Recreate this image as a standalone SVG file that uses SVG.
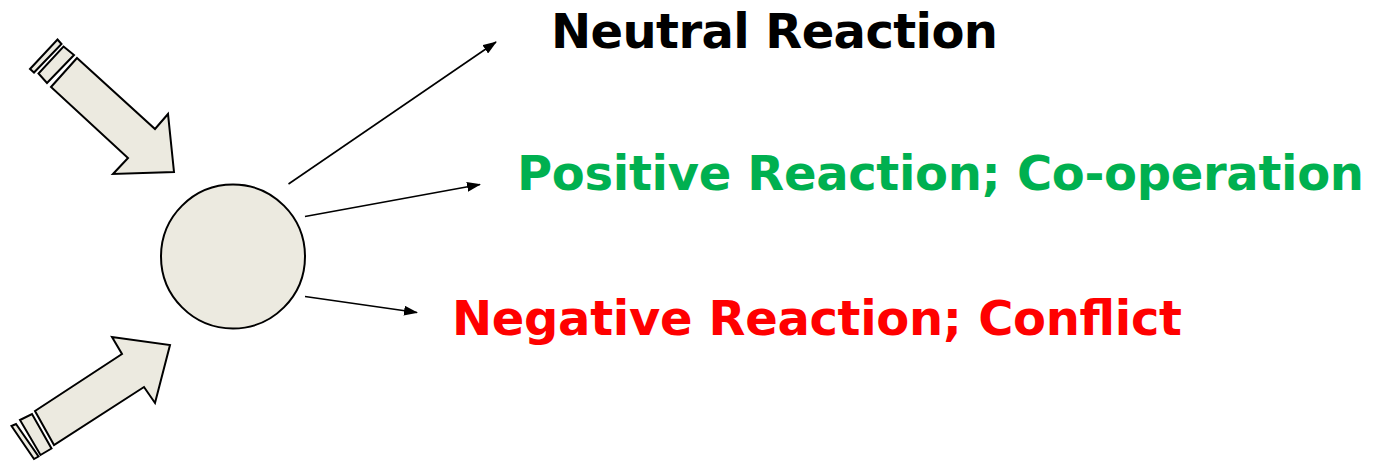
<svg xmlns="http://www.w3.org/2000/svg" width="1379" height="463" viewBox="0 0 1379 463">
<style>
.shape{fill:#ECEAE0;stroke:#000;stroke-width:2;stroke-linejoin:miter}
.conn{stroke:#000;stroke-width:1.6;fill:none;marker-end:url(#ah)}
.lbl{font-family:"DejaVu Sans",Verdana,sans-serif;font-weight:bold;font-size:48px}
</style>
<defs>
<marker id="ah" markerUnits="userSpaceOnUse" markerWidth="14" markerHeight="10" viewBox="0 0 14 10" refX="13" refY="5" orient="auto">
<path d="M0,0 L14,5 L0,10 Z" fill="#000"/>
</marker>
</defs>
<rect width="1379" height="463" fill="#fff"/>
<g id="arrow-top">
<polygon class="shape" points="77,58 155,129 168,114 174,172 113,174 128,158 51,87"/>
<polygon class="shape" points="63.5,46.5 74,55 47,83 38.5,73.5"/>
<polygon class="shape" points="57.5,39.5 61.5,44 34,72.5 30,69"/>
</g>
<g id="arrow-bottom">
<polygon class="shape" points="35,411 122,354 112,337 170,345 155,403 144,387 54,445"/>
<polygon class="shape" points="20,420 32,414 51.5,448.5 40.5,455"/>
<polygon class="shape" points="11.5,426 16,424 38.5,456.5 34,459"/>
</g>
<g id="center">
<circle class="shape" cx="233" cy="256.5" r="72"/>
</g>
<g id="connectors">
<line class="conn" x1="288.5" y1="184" x2="496" y2="42"/>
<line class="conn" x1="305" y1="216.5" x2="480" y2="184.5"/>
<line class="conn" x1="305" y1="296.5" x2="417" y2="312.5"/>
</g>
<g id="neutral"><text class="lbl" x="551" y="47.5" fill="#000" textLength="447" lengthAdjust="spacing">Neutral Reaction</text></g>
<g id="positive"><text class="lbl" x="517" y="190" fill="#00B050" textLength="847" lengthAdjust="spacing">Positive Reaction; Co-operation</text></g>
<g id="negative"><text class="lbl" x="452" y="335" fill="#FF0000" textLength="730" lengthAdjust="spacing">Negative Reaction; Conflict</text></g>
</svg>
